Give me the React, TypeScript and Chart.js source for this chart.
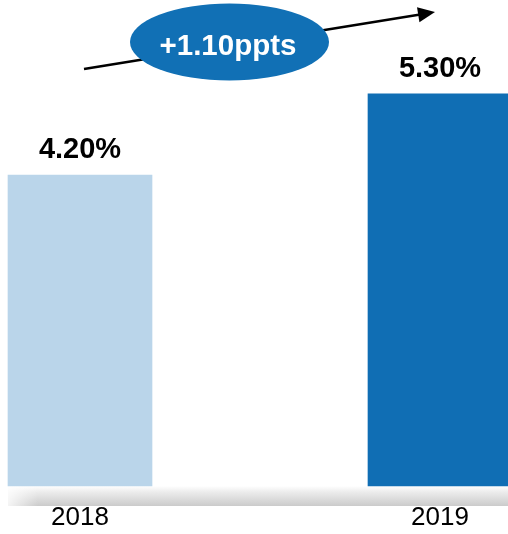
import React, { useEffect, useRef } from "react";
import { Chart, registerables } from "chart.js";

Chart.register(...registerables);

const categories = ["2018", "2019"];
const values = [4.2, 5.3];
const barColors = ["#BAD5EA", "#106EB4"];
const yMin = 0;
const yMax = 6;

const FONT = "'Liberation Sans', Arial, Helvetica, sans-serif";

const floorPlugin = {
  id: "floorShadow",
  beforeDatasetsDraw(chart: any) {
    const { ctx, chartArea } = chart;
    const meta = chart.getDatasetMeta(0);
    const first = meta.data[0];
    const x0 = first.x - first.width / 2;
    const x1 = chart.width;
    const y0 = chartArea.bottom;
    const y1 = y0 + 20;
    ctx.save();
    const g = ctx.createLinearGradient(0, y0, 0, y1);
    g.addColorStop(0, "rgba(255,255,255,1)");
    g.addColorStop(0.3, "#ececec");
    g.addColorStop(1, "#cbcbcb");
    ctx.fillStyle = g;
    ctx.fillRect(x0, y0, x1 - x0, y1 - y0);
    const h = ctx.createLinearGradient(x0, 0, x0 + 30, 0);
    h.addColorStop(0, "rgba(255,255,255,0.8)");
    h.addColorStop(1, "rgba(255,255,255,0)");
    ctx.fillStyle = h;
    ctx.fillRect(x0, y0, 30, y1 - y0);
    ctx.restore();
  },
};

const labelPlugin = {
  id: "valueLabels",
  afterDatasetsDraw(chart: any) {
    const { ctx } = chart;
    const meta = chart.getDatasetMeta(0);
    ctx.save();
    ctx.font = `bold 29px ${FONT}`;
    ctx.fillStyle = "#000";
    ctx.textAlign = "center";
    ctx.textBaseline = "alphabetic";
    meta.data.forEach((bar: any, i: number) => {
      ctx.fillText(values[i].toFixed(2) + "%", bar.x, bar.y - 17);
    });
    ctx.restore();
  },
};

const changePlugin = {
  id: "changeBadge",
  afterDraw(chart: any) {
    const { ctx } = chart;
    const sx = 84, sy = 69, ex = 435, ey = 12;
    const ang = Math.atan2(ey - sy, ex - sx);
    const headLen = 17, headHalf = 7.5;
    const bx = ex - headLen * Math.cos(ang);
    const by = ey - headLen * Math.sin(ang);
    ctx.save();
    ctx.strokeStyle = "#000";
    ctx.lineWidth = 2.5;
    ctx.beginPath();
    ctx.moveTo(sx, sy);
    ctx.lineTo(bx + 2 * Math.cos(ang), by + 2 * Math.sin(ang));
    ctx.stroke();
    ctx.fillStyle = "#000";
    ctx.beginPath();
    ctx.moveTo(ex, ey);
    ctx.lineTo(bx + headHalf * Math.sin(ang), by - headHalf * Math.cos(ang));
    ctx.lineTo(bx - headHalf * Math.sin(ang), by + headHalf * Math.cos(ang));
    ctx.closePath();
    ctx.fill();

    ctx.fillStyle = "#1170B5";
    ctx.beginPath();
    ctx.ellipse(229.5, 42, 99.5, 38.5, 0, 0, Math.PI * 2);
    ctx.fill();

    const diff = values[1] - values[0];
    ctx.fillStyle = "#fff";
    ctx.font = `bold 29.5px ${FONT}`;
    ctx.textAlign = "center";
    ctx.textBaseline = "alphabetic";
    ctx.fillText((diff >= 0 ? "+" : "") + diff.toFixed(2) + "ppts", 228, 55);
    ctx.restore();
  },
};

export default function App() {
  const ref = useRef<HTMLCanvasElement | null>(null);
  useEffect(() => {
    if (!ref.current) return;
    const chart = new Chart(ref.current, {
      type: "bar",
      data: {
        labels: categories,
        datasets: [
          {
            data: values,
            backgroundColor: barColors,
            borderWidth: 0,
            barThickness: 144,
            clip: false as any,
          },
        ],
      },
      options: {
        animation: false,
        responsive: false,
        layout: { padding: { left: 80, right: 68, top: 42, bottom: 0 } },
        plugins: { legend: { display: false }, tooltip: { enabled: false } },
        scales: {
          x: {
            offset: false,
            grid: { display: false, drawTicks: false },
            border: { display: false },
            ticks: {
              color: "#000",
              padding: 16,
              font: { family: FONT, size: 26 },
              maxRotation: 0,
            },
            afterFit: (scale: any) => {
              scale.height = 48;
            },
          },
          y: {
            display: false,
            min: yMin,
            max: yMax,
          },
        },
      },
      plugins: [floorPlugin, labelPlugin, changePlugin],
    });
    return () => chart.destroy();
  }, []);
  return (
    <div style={{ position: "fixed", left: 0, top: 0, width: 508, height: 534, background: "#fff" }}>
      <canvas ref={ref} width={508} height={534} style={{ width: 508, height: 534, display: "block" }} />
    </div>
  );
}
